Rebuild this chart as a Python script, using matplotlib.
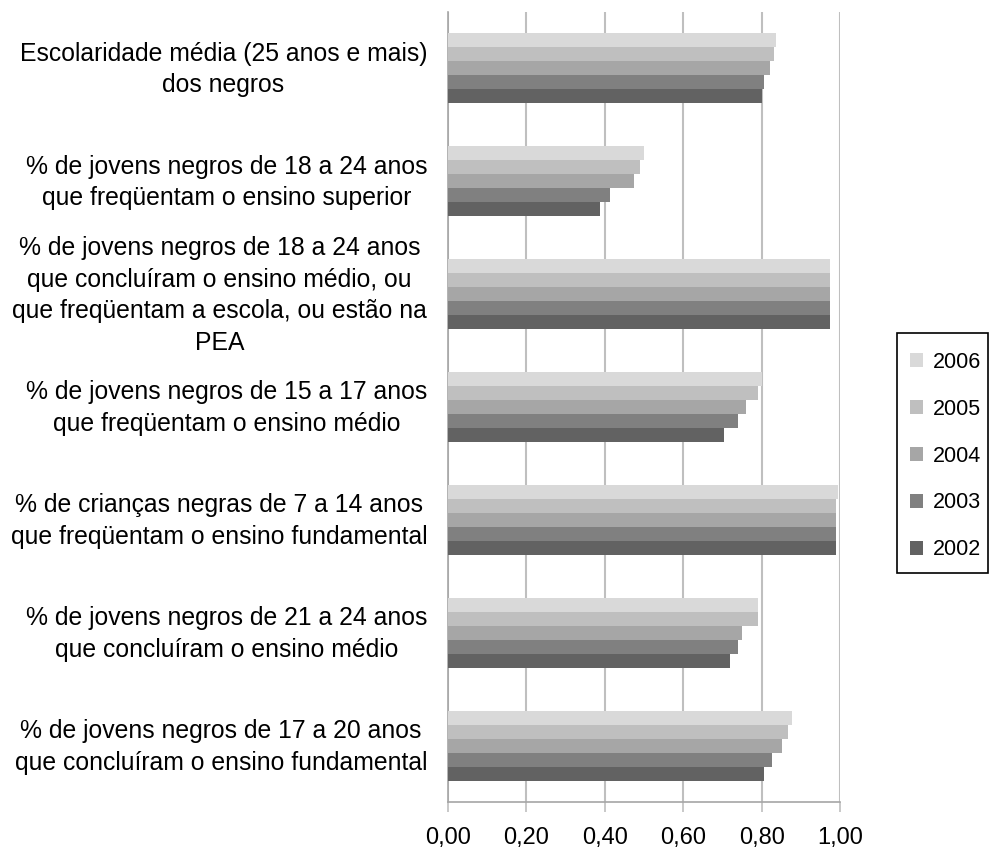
import numpy as np
import matplotlib
matplotlib.use("Agg")
import matplotlib.pyplot as plt
from matplotlib.patches import Patch, Rectangle

plt.rcParams["font.family"] = ["Liberation Sans", "DejaVu Sans"]

categories = [
    "Escolaridade média (25 anos e mais)\ndos negros",
    "% de jovens negros de 18 a 24 anos\nque freqüentam o ensino superior",
    "% de jovens negros de 18 a 24 anos\nque concluíram o ensino médio, ou\n"
    "que freqüentam a escola, ou estão na\nPEA",
    "% de jovens negros de 15 a 17 anos\nque freqüentam o ensino médio",
    "% de crianças negras de 7 a 14 anos\nque freqüentam o ensino fundamental",
    "% de jovens negros de 21 a 24 anos\nque concluíram o ensino médio",
    "% de jovens negros de 17 a 20 anos\nque concluíram o ensino fundamental",
]

years = ["2006", "2005", "2004", "2003", "2002"]

v2006 = [0.837, 0.500, 0.974, 0.800, 0.995, 0.791, 0.878]
v2005 = [0.832, 0.490, 0.974, 0.791, 0.990, 0.791, 0.867]
v2004 = [0.821, 0.474, 0.974, 0.760, 0.990, 0.750, 0.852]
v2003 = [0.806, 0.413, 0.974, 0.740, 0.990, 0.740, 0.827]
v2002 = [0.801, 0.388, 0.974, 0.704, 0.990, 0.719, 0.806]

series = [v2006, v2005, v2004, v2003, v2002]
colors = ["#D9D9D9", "#BFBFBF", "#A6A6A6", "#808080", "#626262"]

W, H = 990, 851
fig = plt.figure(figsize=(W / 100, H / 100), dpi=100)
ax = fig.add_axes([448 / W, 1 - 802 / H, 392 / W, 790 / H])

y = np.arange(len(categories))
h = 0.124
for j, (vals, col) in enumerate(zip(series, colors)):
    ax.barh(y + (j - 2) * h, vals, height=h, color=col, zorder=3)

ticks = np.arange(0, 1.01, 0.2)
ax.set_xlim(0, 1.0)
ax.set_ylim(len(categories) - 0.5, -0.5)
ax.set_xticks(ticks)
ax.set_xticklabels([f"{t:.2f}".replace(".", ",") for t in ticks])
# ticks are hidden, so place them slightly above centre to sit the text level with the bars
ax.set_yticks(y - 0.045)
ax.set_yticklabels(categories, multialignment="center", linespacing=1.4)

ax.grid(axis="x", color="#BFBFBF", linewidth=1.5, zorder=0)
for s in ["top", "right"]:
    ax.spines[s].set_visible(False)
for s in ["left", "bottom"]:
    ax.spines[s].set_color("#A6A6A6")
    ax.spines[s].set_linewidth(1.2)

ax.tick_params(axis="x", length=7, color="#BFBFBF", width=1.2, labelsize=17, pad=11)
ax.tick_params(axis="y", length=0, labelsize=17.8, pad=15)

# legend entries without their own frame; the box is drawn separately
handles = [Patch(facecolor=c, label=yr) for c, yr in zip(colors, years)]
fig.legend(
    handles=handles,
    loc="upper left",
    bbox_to_anchor=(910 / W, 1 - 352 / H),
    frameon=False,
    fontsize=15.5,
    handlelength=0.62,
    handleheight=0.62,
    handletextpad=0.42,
    labelspacing=1.2,
    borderpad=0,
    borderaxespad=0,
)
fig.patches.append(Rectangle((897 / W, 1 - 573 / H), 91 / W, 240 / H,
                             transform=fig.transFigure, fill=False,
                             edgecolor="black", linewidth=1.2))

fig.savefig("out.png", dpi=100)
